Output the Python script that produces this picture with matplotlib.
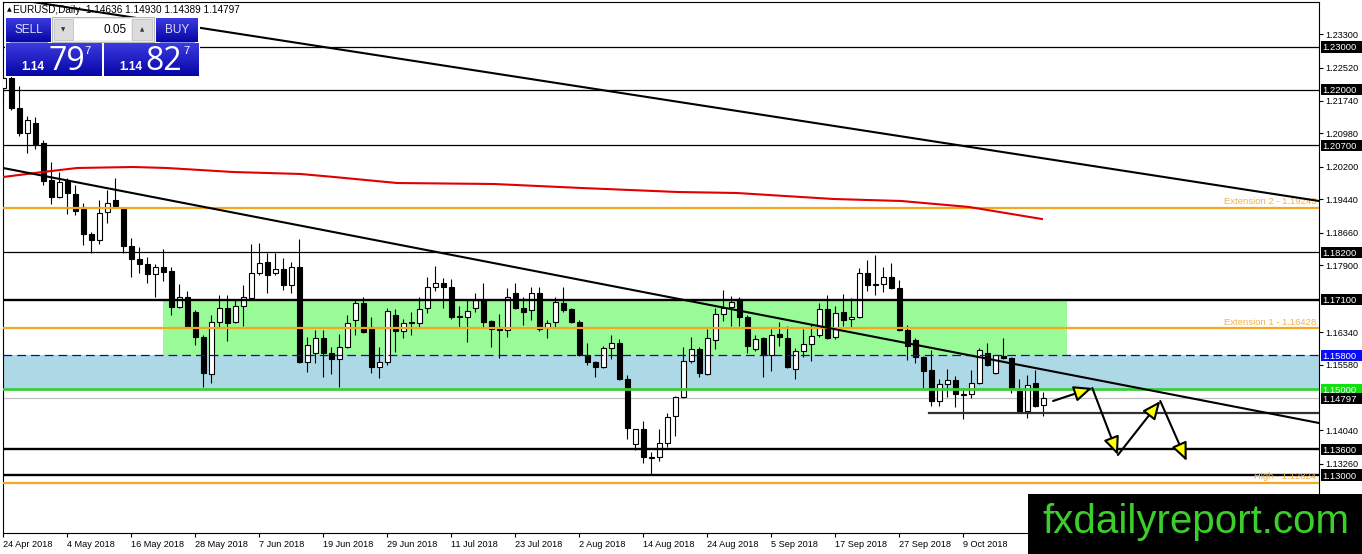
import numpy as np
import matplotlib.pyplot as plt
from matplotlib.patches import Rectangle
from matplotlib.colors import LinearSegmentedColormap
from matplotlib.transforms import blended_transform_factory

plt.rcParams['font.family'] = ['Liberation Sans', 'DejaVu Sans']

# daily EURUSD candles, 24 Apr 2018 .. 23 Oct 2018
opens = [1.22042, 1.22276, 1.21575, 1.20991, 1.21224, 1.20757, 1.19893, 1.19495, 1.19869, 1.19565,
         1.19215, 1.18631, 1.18491, 1.19145, 1.19425, 1.19238, 1.18350, 1.18047, 1.17930, 1.17696,
         1.17860, 1.17766, 1.16925, 1.17159, 1.16808, 1.16224, 1.15360, 1.16575, 1.16902, 1.16575,
         1.16949, 1.17136, 1.17720, 1.17977, 1.17720, 1.17813, 1.17439, 1.17860, 1.15640, 1.15851,
         1.16201, 1.15851, 1.15710, 1.15991, 1.16622, 1.17019, 1.16458, 1.15523, 1.15640, 1.16738,
         1.16365, 1.16551, 1.16551, 1.16902, 1.17393, 1.17486, 1.17393, 1.16715, 1.16692, 1.16902,
         1.17089, 1.16598, 1.16411, 1.16388, 1.17252, 1.16902, 1.16855, 1.17252, 1.16435, 1.16575,
         1.17019, 1.16879, 1.16575, 1.15804, 1.15640, 1.15523, 1.15967, 1.16084, 1.15243, 1.13724,
         1.14075, 1.13397, 1.13421, 1.13748, 1.14379, 1.14823, 1.15664, 1.15944, 1.15360, 1.16154,
         1.16762, 1.16925, 1.17112, 1.16692, 1.15944, 1.16201, 1.15804, 1.16294, 1.16201, 1.15477,
         1.15897, 1.16061, 1.16271, 1.16879, 1.16224, 1.16808, 1.16645, 1.16692, 1.17720, 1.17463,
         1.17463, 1.17626, 1.17369, 1.16388, 1.16154, 1.15757, 1.15453, 1.14729, 1.15126, 1.15220,
         1.14893, 1.14893, 1.15150, 1.15851, 1.15383, 1.15780, 1.15734, 1.14963, 1.14495, 1.15150,
         1.14636]
highs = [1.22369, 1.22392, 1.22089, 1.21388, 1.21364, 1.20827, 1.20313, 1.20079, 1.19939, 1.19776,
         1.19355, 1.18678, 1.19425, 1.19659, 1.19939, 1.19262, 1.18537, 1.18327, 1.18094, 1.17930,
         1.18280, 1.17860, 1.17463, 1.17299, 1.16855, 1.16271, 1.16738, 1.17206, 1.17206, 1.17089,
         1.17439, 1.18397, 1.18421, 1.18187, 1.18187, 1.18070, 1.17977, 1.18514, 1.16224, 1.16388,
         1.16388, 1.15991, 1.16294, 1.16738, 1.17112, 1.17159, 1.16692, 1.15991, 1.16902, 1.16879,
         1.16645, 1.16808, 1.17159, 1.17626, 1.17883, 1.17603, 1.17579, 1.16949, 1.17089, 1.17252,
         1.17486, 1.16622, 1.16762, 1.17369, 1.17486, 1.17159, 1.17393, 1.17393, 1.16622, 1.17159,
         1.17393, 1.16902, 1.16622, 1.16084, 1.15664, 1.16014, 1.16271, 1.16178, 1.15337, 1.14075,
         1.14262, 1.13537, 1.14075, 1.14449, 1.14846, 1.15991, 1.16224, 1.15991, 1.16411, 1.16902,
         1.17322, 1.17182, 1.17159, 1.16738, 1.16271, 1.16224, 1.16411, 1.16575, 1.16481, 1.15967,
         1.16411, 1.16528, 1.17019, 1.17206, 1.16949, 1.17229, 1.17136, 1.17836, 1.18023, 1.18140,
         1.17860, 1.17953, 1.17556, 1.16505, 1.16201, 1.15780, 1.15921, 1.15243, 1.15477, 1.15313,
         1.15033, 1.15453, 1.15967, 1.16084, 1.15804, 1.16201, 1.15757, 1.15243, 1.15337, 1.15453,
         1.14930]
lows = [1.21832, 1.21528, 1.20921, 1.20523, 1.20617, 1.19776, 1.19332, 1.19472, 1.19098, 1.19075,
        1.18374, 1.18187, 1.18397, 1.18888, 1.19262, 1.18187, 1.17626, 1.17720, 1.17486, 1.17159,
        1.17533, 1.16738, 1.16902, 1.16435, 1.16037, 1.15056, 1.15150, 1.16458, 1.16131, 1.16551,
        1.16481, 1.17112, 1.17673, 1.17252, 1.17673, 1.17322, 1.17252, 1.15617, 1.15407, 1.15617,
        1.15290, 1.15360, 1.15056, 1.15967, 1.16271, 1.16318, 1.15383, 1.15266, 1.15570, 1.15874,
        1.16201, 1.16271, 1.16458, 1.16785, 1.17299, 1.16902, 1.16645, 1.16458, 1.16108, 1.16808,
        1.16458, 1.15991, 1.15734, 1.16224, 1.16879, 1.16505, 1.16622, 1.16365, 1.16201, 1.16458,
        1.16808, 1.16551, 1.15780, 1.15570, 1.15290, 1.15500, 1.15710, 1.15220, 1.13841, 1.13584,
        1.13281, 1.13000, 1.13327, 1.13654, 1.13911, 1.14799, 1.15617, 1.15290, 1.15337, 1.15944,
        1.16598, 1.16481, 1.16481, 1.15851, 1.15897, 1.15290, 1.15430, 1.16014, 1.15500, 1.15243,
        1.15757, 1.15664, 1.16224, 1.16178, 1.16178, 1.16481, 1.16458, 1.16668, 1.17299, 1.17206,
        1.17276, 1.17346, 1.16365, 1.15687, 1.15617, 1.15033, 1.14612, 1.14612, 1.14823, 1.14589,
        1.14309, 1.14799, 1.15126, 1.15547, 1.15360, 1.15710, 1.14916, 1.14449, 1.14332, 1.14589,
        1.14389]
closes = [1.22276, 1.21575, 1.20991, 1.21294, 1.20734, 1.19869, 1.19495, 1.19846, 1.19589, 1.19168,
          1.18631, 1.18491, 1.19122, 1.19355, 1.19285, 1.18350, 1.18047, 1.17930, 1.17696, 1.17860,
          1.17743, 1.16925, 1.17159, 1.16458, 1.16224, 1.15383, 1.16575, 1.16902, 1.16551, 1.16949,
          1.17159, 1.17720, 1.17953, 1.17673, 1.17813, 1.17439, 1.17860, 1.15640, 1.16037, 1.16201,
          1.15851, 1.15710, 1.15991, 1.16551, 1.17019, 1.16341, 1.15523, 1.15640, 1.16832, 1.16365,
          1.16551, 1.16575, 1.16879, 1.17393, 1.17486, 1.17393, 1.16692, 1.16692, 1.16832, 1.17089,
          1.16575, 1.16411, 1.16388, 1.17159, 1.16902, 1.16808, 1.17252, 1.16411, 1.16551, 1.17042,
          1.16855, 1.16575, 1.15804, 1.15640, 1.15523, 1.15967, 1.16084, 1.15243, 1.14098, 1.14075,
          1.13421, 1.13421, 1.13748, 1.14355, 1.14823, 1.15664, 1.15944, 1.15383, 1.16201, 1.16762,
          1.16902, 1.17042, 1.16692, 1.16014, 1.16178, 1.15804, 1.16271, 1.16224, 1.15523, 1.15897,
          1.16061, 1.16248, 1.16879, 1.16201, 1.16785, 1.16622, 1.16692, 1.17720, 1.17439, 1.17439,
          1.17626, 1.17369, 1.16388, 1.16014, 1.15757, 1.15430, 1.14729, 1.15126, 1.15220, 1.14893,
          1.14869, 1.15150, 1.15921, 1.15570, 1.15804, 1.15734, 1.15009, 1.14495, 1.15103, 1.14612,
          1.14797]

date_labels = ['24 Apr 2018', '4 May 2018', '16 May 2018', '28 May 2018', '7 Jun 2018',
               '19 Jun 2018', '29 Jun 2018', '11 Jul 2018', '23 Jul 2018', '2 Aug 2018',
               '14 Aug 2018', '24 Aug 2018', '5 Sep 2018', '17 Sep 2018', '27 Sep 2018',
               '9 Oct 2018']
date_bars = [0, 8, 16, 24, 32, 40, 48, 56, 64, 72, 80, 88, 96, 104, 112, 120]

# 200-day moving average (red), read at a few bars
sma_bars = [0, 4.9, 9.2, 16.2, 20.4, 28.7, 37.1, 41.3, 49.2, 61.3, 72.2, 84.3, 91.6,
            103.7, 112.2, 120.7, 129.8]
sma_vals = [1.19963, 1.20079, 1.20173, 1.20196, 1.20173, 1.20079, 1.20033, 1.19963, 1.19822,
            1.19799, 1.19706, 1.19612, 1.19589, 1.19449, 1.19402, 1.19262, 1.18981]

thin_levels = [1.23, 1.22, 1.207, 1.182]
thick_levels = [1.171, 1.136, 1.13]
fib_levels = [1.19243, 1.16428, 1.12824]
fib_names = ['Extension 2 - 1.19243', 'Extension 1 - 1.16428', 'High - 1.12824']
zone_top, zone_mid, zone_low = 1.171, 1.158, 1.15
zone_bars = [19.9, 132.9]
last_price = 1.14797
support = 1.14456
support_from = 115.7

upper_trend_bars = [3.7, 164.44]
upper_trend_vals = [1.24051, 1.19402]
lower_trend_bars = [-0.06, 164.44]
lower_trend_vals = [1.20173, 1.14215]

path_bars = [131.2, 136.1, 139.3, 144.6, 147.9]
path_vals = [1.14729, 1.15033, 1.13467, 1.14729, 1.13327]

ytick_vals = [1.233, 1.2252, 1.2174, 1.2098, 1.202, 1.1944, 1.1866, 1.179, 1.1634, 1.1558,
              1.1404, 1.1326, 1.1248]
marked_vals = [1.23, 1.22, 1.207, 1.182, 1.171, 1.158, 1.15, 1.14797, 1.136, 1.13]
marked_cols = ['black', 'black', 'black', 'black', 'black', '#0a0aff', '#10e010', 'black',
               'black', 'black']

W, H = 1362, 554
fig = plt.figure(figsize=(W / 100, H / 100), dpi=100)
ax = fig.add_axes([3 / W, 21 / H, 1316 / W, 531 / H])
ax.set_xlim(-0.0625, 164.44)
ax.set_ylim(1.11645, 1.24051)

idx = np.arange(len(opens))
o = np.array(opens)
c = np.array(closes)
up = c >= o

# zones
ax.add_patch(Rectangle((zone_bars[0], zone_mid), zone_bars[1] - zone_bars[0], zone_top - zone_mid,
                       facecolor='#98fb98', edgecolor='none', zorder=1))
ax.axhspan(zone_low, zone_mid, facecolor='#add8e6', edgecolor='none', zorder=1)

# candles
ax.vlines(idx, lows, highs, color='black', lw=0.8, zorder=3)
ax.bar(idx[up], (c - o)[up], bottom=o[up], width=0.6, color='white', edgecolor='black',
       linewidth=0.8, zorder=4)
ax.bar(idx[~up], (o - c)[~up], bottom=c[~up], width=0.6, color='black', edgecolor='black',
       linewidth=0.8, zorder=4)

# levels
for v in thin_levels:
    ax.axhline(v, color='black', lw=0.9, zorder=5)
for v in thick_levels:
    ax.axhline(v, color='black', lw=1.7, zorder=5)
for v, name in zip(fib_levels, fib_names):
    ax.axhline(v, color='#f5a623', lw=1.6, zorder=5)
    ax.text(0.998, v + 0.0004, name, transform=blended_transform_factory(ax.transAxes, ax.transData),
            ha='right', va='bottom', fontsize=6.8, color='#f2b24a', zorder=5)
ax.axhline(zone_mid, color='#0a0ab4', lw=0.9, dashes=(7, 4), zorder=5)
ax.axhline(zone_low, color='#3ccc3c', lw=2.0, zorder=5)
ax.axhline(last_price, color='#c0c0c0', lw=0.9, zorder=2)
ax.plot([support_from, 164.44], [support, support], color='#303030', lw=1.6, zorder=5)

# moving average and trend lines
ax.plot(sma_bars, sma_vals, color='#e00000', lw=1.5, zorder=5)
ax.plot(upper_trend_bars, upper_trend_vals, color='black', lw=1.5, zorder=6)
ax.plot(lower_trend_bars, lower_trend_vals, color='black', lw=1.5, zorder=6)

# projected path
for k in range(len(path_bars) - 1):
    ax.annotate('', xy=(path_bars[k + 1], path_vals[k + 1]), xytext=(path_bars[k], path_vals[k]),
                arrowprops=dict(arrowstyle='-|>,head_length=0.55,head_width=0.24', mutation_scale=20,
                                fc='#ffff00', ec='black', lw=1.5, shrinkA=0, shrinkB=0),
                zorder=7)

# axes styling
for s in ax.spines.values():
    s.set_color('black')
    s.set_linewidth(0.8)
ax.yaxis.tick_right()
ax.set_yticks(ytick_vals)
ax.set_yticklabels(['%.5f' % v for v in ytick_vals])
ax.tick_params(axis='y', length=3, width=0.8, pad=1.5, labelsize=6.6, direction='out')
ax.set_xticks(date_bars)
ax.set_xticklabels(date_labels)
ax.tick_params(axis='x', length=3, width=0.8, pad=2, labelsize=6.6, direction='out')
for lbl in ax.get_xticklabels():
    lbl.set_ha('left')

# price tags on the right scale
tr = blended_transform_factory(ax.transAxes, ax.transData)
tag_h = 0.0026
for v, col in zip(marked_vals, marked_cols):
    ax.add_patch(Rectangle((1.0012, v - tag_h / 2), 0.0322, tag_h, transform=tr, facecolor=col,
                           edgecolor='none', clip_on=False, zorder=10))
    ax.text(1.0028, v, '%.5f' % v, transform=tr, ha='left', va='center_baseline', fontsize=6.8,
            color='white', clip_on=False, zorder=11)

ax.text(4 / 1316, (533 - 10) / 531, '\u25b2', transform=ax.transAxes, fontsize=4.5,
        va='center', ha='left', zorder=5, family=['DejaVu Sans'])
ax.text(10 / 1316, (533 - 10) / 531, 'EURUSD,Daily  1.14636 1.14930 1.14389 1.14797',
        transform=ax.transAxes, fontsize=7.2, va='center', ha='left', zorder=5)

# overlay in pixel units: trade panel and watermark
ov = fig.add_axes([0, 0, 1, 1], zorder=20)
ov.patch.set_alpha(0)
ov.axis('off')


def grad_box(x0, y0, x1, y1, top='#3a3ae0', bottom='#0606a6'):
    g = np.linspace(0, 1, 64).reshape(-1, 1)
    cm = LinearSegmentedColormap.from_list('g', [top, bottom])
    ov.imshow(g, extent=(x0, x1, y1, y0), cmap=cm, aspect='auto', zorder=2,
              interpolation='bilinear')


ov.add_patch(Rectangle((5, 17), 195, 60, facecolor='white', edgecolor='none', zorder=1))
grad_box(6, 18, 51, 42)
grad_box(156, 18, 198, 42)
grad_box(6, 43, 102, 76)
grad_box(104, 43, 199, 76)
ov.plot([10, 47], [41.5, 41.5], color='#8c8ce8', lw=0.7, zorder=3)
ov.plot([160, 194], [41.5, 41.5], color='#8c8ce8', lw=0.7, zorder=3)
ov.text(28.5, 30, 'SELL', color='#dcdcff', fontsize=8.5, ha='center', va='center', zorder=3)
ov.text(177, 30, 'BUY', color='#dcdcff', fontsize=8.5, ha='center', va='center', zorder=3)

ov.add_patch(Rectangle((52, 17), 102, 25, facecolor='#eeeeee', edgecolor='#b8b8b8', lw=0.8, zorder=2))
ov.add_patch(Rectangle((54, 19), 19, 21, facecolor='#dcdcdc', edgecolor='#c4c4c4', lw=0.6, zorder=3))
ov.add_patch(Rectangle((74, 19), 57, 21, facecolor='white', edgecolor='none', zorder=3))
ov.add_patch(Rectangle((132, 19), 20, 21, facecolor='#dcdcdc', edgecolor='#c4c4c4', lw=0.6, zorder=3))
ov.text(63.5, 29.5, '\u25bc', fontsize=4, ha='center', va='center', color='#333333', zorder=4,
        family=['DejaVu Sans'])
ov.text(142, 29.5, '\u25b2', fontsize=4, ha='center', va='center', color='#333333', zorder=4,
        family=['DejaVu Sans'])
ov.text(127, 30, '0.05', fontsize=8.5, ha='right', va='center', color='black', zorder=4)

for x_small, x_big, x_sup, big in [(21, 48, 84, '79'), (119, 145, 183, '82')]:
    ov.text(x_small, 70, '1.14', fontsize=8.5, fontweight='bold', color='white', ha='left',
            va='baseline', zorder=4)
    ov.text(x_big, 70, big, fontsize=23, color='white', ha='left', va='baseline', zorder=4,
            family=['Open Sans', 'DejaVu Sans'])
    ov.text(x_sup, 54, '7', fontsize=8, color='white', ha='left', va='baseline', zorder=4)

ov.add_patch(Rectangle((1028, 494), 334, 60, facecolor='black', edgecolor='none', zorder=2))
ov.text(1042, 533, 'fxdailyreport.com', fontsize=29, color='#3ccf2c', ha='left',
        va='baseline', zorder=3)

ov.set_xlim(0, W)
ov.set_ylim(H, 0)

fig.savefig('out.png', dpi=100, facecolor='white')
